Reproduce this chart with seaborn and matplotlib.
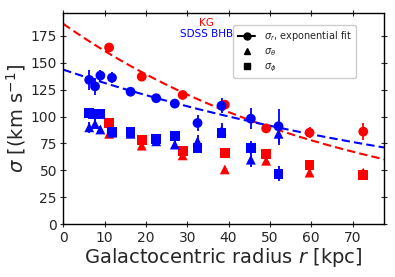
import numpy as np
import pandas as pd
import seaborn as sns
import matplotlib.pyplot as plt
from matplotlib.lines import Line2D

sns.set_theme(style="ticks")
plt.rcParams['font.family'] = ['DejaVu Sans']
plt.rcParams['mathtext.fontset'] = 'dejavusans'

# KG sample
r_kg = [11.1, 19.0, 28.9, 39.1, 49.1, 59.6, 72.6]
kg_sr = [164, 137, 120, 111, 89, 85, 86]
kg_sr_err = [3, 3, 3, 3, 4, 5, 8]
kg_sth = [84, 73, 64, 51, 59, 48, 48]
kg_sth_err = [3, 3, 3, 2, 3, 3, 3]
kg_sph = [94, 78, 68, 66, 65, 55, 46]
kg_sph_err = [3, 3, 3, 2, 3, 3, 3]

# SDSS BHB sample
r_bhb = [6.3, 7.7, 9.0, 11.8, 16.3, 22.5, 27.0, 32.5, 38.3, 45.4, 52.1]
bhb_sr = [134, 128, 138, 136, 123, 117, 112, 94, 110, 98, 91]
bhb_sr_err = [9, 8, 5, 5, 2, 3, 4, 7, 7, 10, 16]
bhb_sth = [90, 93, 88, 85, 84, 77, 74, 77, 87, 60, 84]
bhb_sth_err = [5, 5, 3, 3, 2, 3, 3, 6, 7, 7, 10]
bhb_sph = [103, 102, 102, 86, 86, 79, 82, 71, 85, 71, 47]
bhb_sph_err = [5, 5, 4, 3, 2, 3, 3, 4, 4, 6, 7]

# exponential fits sigma_r = A exp(-r / r_s)
kg_fit = (186.0, 69.0)
bhb_fit = (143.5, 111.0)

fig = plt.figure(figsize=(3.95, 2.77), dpi=100)
ax = fig.add_axes([0.16, 0.19, 0.812, 0.763])

r_grid = np.linspace(0, 78, 200)
samples = [
    ("#ff0000", r_kg, kg_sr, kg_sr_err, kg_sth, kg_sth_err, kg_sph, kg_sph_err, kg_fit),
    ("#0000ff", r_bhb, bhb_sr, bhb_sr_err, bhb_sth, bhb_sth_err, bhb_sph, bhb_sph_err, bhb_fit),
]
for col, r, sr, sre, sth, sthe, sph, sphe, fit in samples:
    fit_df = pd.DataFrame({"r": r_grid, "s": fit[0] * np.exp(-r_grid / fit[1])})
    sns.lineplot(data=fit_df, x="r", y="s", ax=ax, color=col, lw=1.5,
                 linestyle=(0, (4, 2)), zorder=2)
    for vals, errs, mk in [(sr, sre, "o"), (sth, sthe, "^"), (sph, sphe, "s")]:
        ax.errorbar(r, vals, yerr=errs, fmt="none", ecolor=col, elinewidth=1.3, zorder=3)
        sns.scatterplot(x=r, y=vals, ax=ax, color=col, marker=mk, s=50,
                        edgecolor="none", zorder=4)

ax.text(0.448, 0.952, "KG", color="#ff0000", fontsize=7.5, ha="center",
        va="center", transform=ax.transAxes)
ax.text(0.448, 0.903, "SDSS BHB", color="#0000ff", fontsize=7.5, ha="center",
        va="center", transform=ax.transAxes)

handles = [
    Line2D([], [], color="black", ls="--", marker="o", markersize=5),
    Line2D([], [], color="black", ls="none", marker="^", markersize=5),
    Line2D([], [], color="black", ls="none", marker="s", markersize=5),
]
labels = [r"$\sigma_r$, exponential fit", r"$\sigma_\theta$", r"$\sigma_\phi$"]
ax.legend(handles, labels, loc="upper right", bbox_to_anchor=(0.913, 0.943),
          borderaxespad=0, fontsize=7, handlelength=2.0, labelspacing=0.35,
          borderpad=0.4, frameon=True, framealpha=1)

ax.set_xlim(0, 77.6)
ax.set_ylim(0, 196)
ax.set_xticks(range(0, 71, 10))
ax.set_yticks(range(0, 176, 25))
ax.tick_params(direction="inout", top=True, right=True, labelsize=10, length=5,
               width=0.8, pad=2)
for sp in ax.spines.values():
    sp.set_color("black")
    sp.set_linewidth(1.0)
ax.set_xlabel(r"Galactocentric radius $r$ [kpc]", fontsize=14, labelpad=1)
ax.set_ylabel(r"$\sigma$ [(km s$^{-1}$]", fontsize=14, labelpad=2)

fig.savefig("out.png", dpi=100)
